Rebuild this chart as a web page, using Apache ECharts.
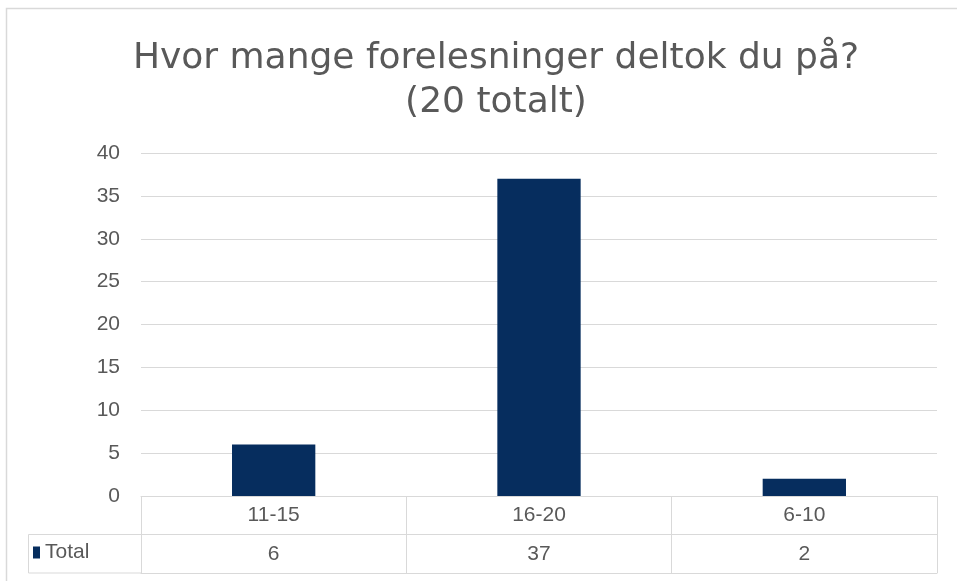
<!DOCTYPE html>
<html>
<head>
<meta charset="utf-8">
<script src="https://cdn.jsdelivr.net/npm/echarts@6/dist/echarts.min.js"></script>
<style>html,body{margin:0;padding:0;background:#fff;}#c{width:957px;height:581px;}</style>
</head>
<body>
<div id="c"></div>
<script>
var titleLines = ['Hvor mange forelesninger deltok du på?', '(20 totalt)'];
var categories = ['11-15', '16-20', '6-10'];
var seriesName = 'Total';
var values = [6, 37, 2];
var yMin = 0, yMax = 40, yStep = 5;

var FONT = 'Liberation Sans';
var TFONT = 'DejaVu Sans';
var TXT = '#595959';
var LINE = '#d9d9d9';
var BAR = '#062d5e';

var gridL = 141, gridR = 20, gridT = 153, gridB = 85;
var rowH = 38.5;

var chart = echarts.init(document.getElementById('c'), null, {renderer: 'canvas'});
var option = {
  animation: false,
  backgroundColor: '#fff',
  textStyle: {fontFamily: FONT},
  title: {
    text: titleLines.join('\n'),
    left: 491, top: 32, textAlign: 'center',
    textStyle: {fontFamily: TFONT, fontSize: 36, fontWeight: 'normal', color: TXT, lineHeight: 44}
  },
  legend: {
    data: [seriesName],
    left: 28, top: 537,
    icon: 'rect', itemWidth: 7, itemHeight: 12,
    textStyle: {fontFamily: FONT, fontSize: 21, color: TXT}
  },
  grid: {left: gridL, right: gridR, top: gridT, bottom: gridB, containLabel: false},
  xAxis: [{
    type: 'category', data: categories, position: 'bottom',
    axisLine: {lineStyle: {color: LINE, width: 1}},
    axisTick: {show: true, length: rowH * 2, lineStyle: {color: LINE}},
    axisLabel: {color: TXT, fontSize: 21, fontFamily: FONT, margin: 9}
  }, {
    type: 'category', data: values.map(String), position: 'bottom', offset: rowH,
    axisLine: {show: true, lineStyle: {color: LINE, width: 1}},
    axisTick: {show: false},
    axisLabel: {color: TXT, fontSize: 21, fontFamily: FONT, margin: 9}
  }, {
    type: 'category', data: values.map(function(){return '';}), position: 'bottom', offset: rowH * 2,
    axisLine: {show: true, lineStyle: {color: LINE, width: 1}},
    axisTick: {show: false}, axisLabel: {show: false}
  }],
  yAxis: {
    type: 'value', min: yMin, max: yMax, interval: yStep,
    axisLine: {show: false}, axisTick: {show: false},
    axisLabel: {color: TXT, fontSize: 21, fontFamily: FONT, margin: 21},
    splitLine: {lineStyle: {color: LINE, width: 1}}
  },
  series: [{
    name: seriesName, type: 'bar', data: values, barWidth: '31.4%',
    itemStyle: {color: BAR}
  }],
  graphic: [
    {type: 'rect', silent: true, shape: {x: 6.5, y: 8.5, width: 1000, height: 1000},
     style: {fill: null, stroke: LINE, lineWidth: 1.5}},
    {type: 'line', silent: true, shape: {x1: 28.5, y1: 581 - gridB + rowH, x2: gridL, y2: 581 - gridB + rowH}, style: {stroke: LINE, lineWidth: 1}},
    {type: 'line', silent: true, shape: {x1: 28.5, y1: 581 - gridB + rowH * 2, x2: gridL, y2: 581 - gridB + rowH * 2}, style: {stroke: LINE, lineWidth: 1}},
    {type: 'line', silent: true, shape: {x1: 28.5, y1: 581 - gridB + rowH, x2: 28.5, y2: 581 - gridB + rowH * 2}, style: {stroke: LINE, lineWidth: 1}}
  ]
};
chart.setOption(option);
</script>
</body>
</html>
